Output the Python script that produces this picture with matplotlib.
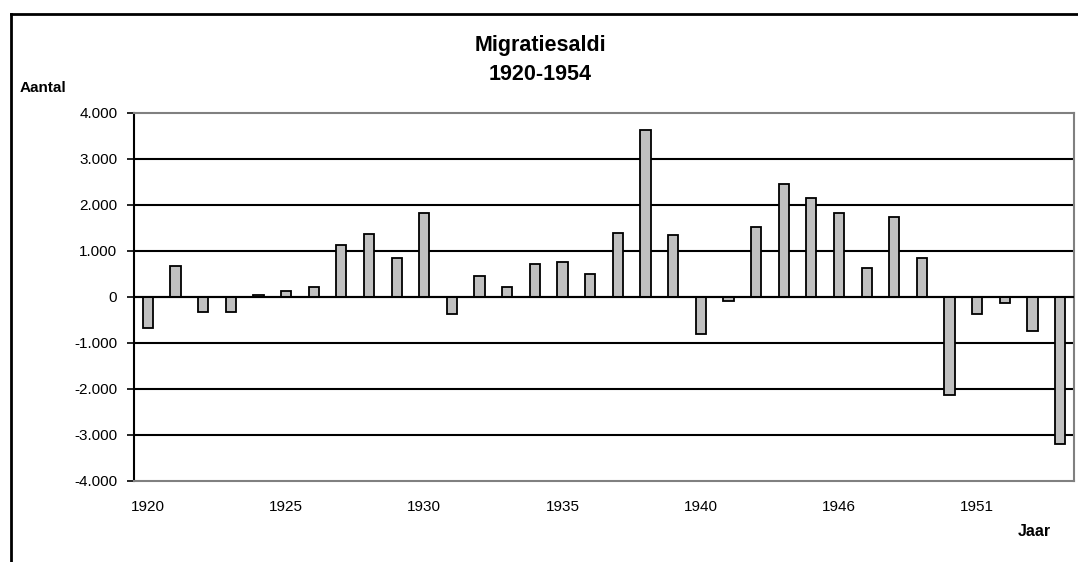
import matplotlib
matplotlib.use("Agg")
import matplotlib.pyplot as plt
from matplotlib.lines import Line2D

plt.rcParams['font.family'] = ['Liberation Sans', 'DejaVu Sans']

years = [1920, 1921, 1922, 1923, 1924, 1925, 1926, 1927, 1928, 1929,
         1930, 1931, 1932, 1933, 1934, 1935, 1936, 1937, 1938, 1939,
         1940, 1941, 1942, 1943, 1944, 1946, 1947, 1948, 1949, 1950,
         1951, 1952, 1953, 1954]
saldo = [-680, 670, -320, -320, 40, 130, 220, 1120, 1380, 850,
         1830, -366, 454, 220, 717, 761, 497, 1390, 3620, 1346,
         -810, -95, 1525, 2460, 2150, 1830, 622, 1750, 850, -2130,
         -366, -140, -730, -3190]
yticks = [-4000, -3000, -2000, -1000, 0, 1000, 2000, 3000, 4000]
ytick_labels = ['-4.000', '-3.000', '-2.000', '-1.000', '0', '1.000', '2.000', '3.000', '4.000']
xlabel_every = 5

W, H = 1078, 562
fig = plt.figure(figsize=(W / 100, H / 100), dpi=100)
ax = fig.add_axes([134 / W, 1 - 481 / H, (1074 - 134) / W, (481 - 113) / H])

x = list(range(len(years)))
ax.bar(x, saldo, width=0.37, color='#C0C0C0', edgecolor='black', linewidth=1.3, zorder=3)

ax.set_xlim(-0.5, len(years) - 0.5)
ax.set_ylim(-4000, 4000)
ax.set_yticks(yticks)
ax.set_yticklabels(ytick_labels, fontsize=11)
for v in yticks[1:-1]:
    ax.axhline(v, color='black', linewidth=1.5, zorder=1)
ax.axhline(0, color='black', linewidth=1.5, zorder=4)

ax.set_xticks(x[::xlabel_every])
ax.set_xticklabels([str(y) for y in years[::xlabel_every]], fontsize=11)
ax.tick_params(axis='x', length=0, pad=14)
ax.tick_params(axis='y', length=5, width=1.2, pad=7, direction='out')

for s in ['top', 'right', 'bottom']:
    ax.spines[s].set_color('#808080')
    ax.spines[s].set_linewidth(1.5)
ax.spines['left'].set_color('black')
ax.spines['left'].set_linewidth(1.5)

fig.text(540 / W, 1 - 45 / H, 'Migratiesaldi', ha='center', va='center',
         fontsize=15.5, fontweight='bold')
fig.text(540 / W, 1 - 74 / H, '1920-1954', ha='center', va='center',
         fontsize=15.5, fontweight='bold')
fig.text(20 / W, 1 - 88 / H, 'Aantal', ha='left', va='center',
         fontsize=11, fontweight='bold')
fig.text(1051 / W, 1 - 532 / H, 'Jaar', ha='right', va='center',
         fontsize=11.5, fontweight='bold')

# outer frame
fig.add_artist(Line2D([10.5 / W, 10.5 / W], [0, 1 - 13.5 / H], transform=fig.transFigure,
                      color='black', linewidth=2))
fig.add_artist(Line2D([10.5 / W, 1], [1 - 13.5 / H, 1 - 13.5 / H], transform=fig.transFigure,
                      color='black', linewidth=2))

fig.savefig('out.png', dpi=100)
